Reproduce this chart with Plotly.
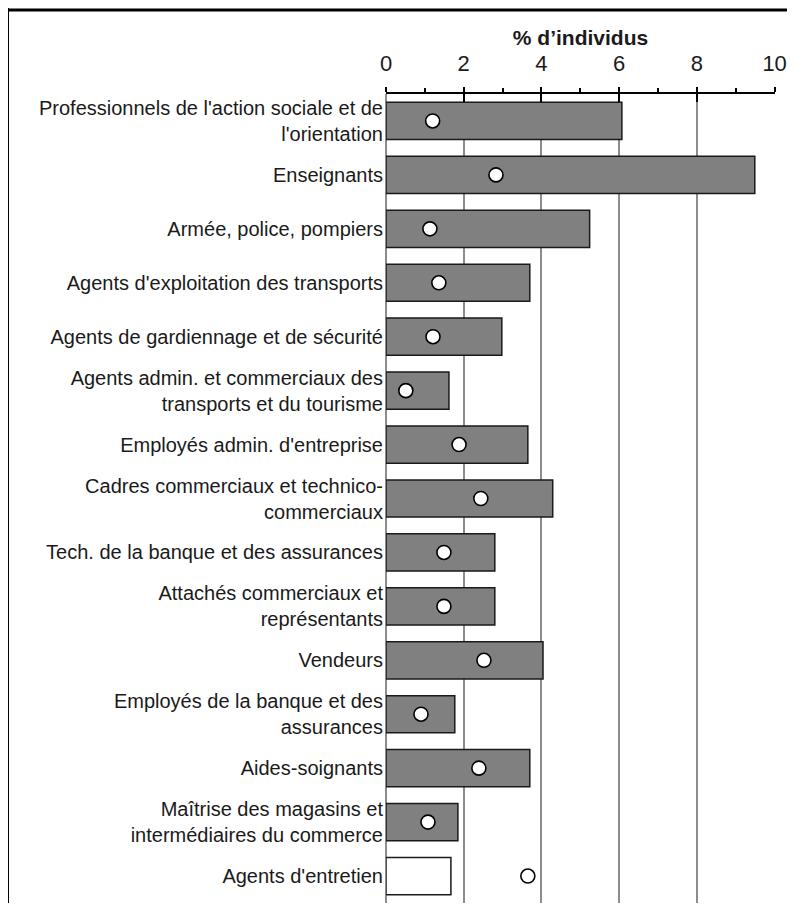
import plotly.graph_objects as go

categories = [
    "Professionnels de l'action sociale et de<br>l'orientation",
    "Enseignants",
    "Armée, police, pompiers",
    "Agents d'exploitation des transports",
    "Agents de gardiennage et de sécurité",
    "Agents admin. et commerciaux des<br>transports et du tourisme",
    "Employés admin. d'entreprise",
    "Cadres commerciaux et technico-<br>commerciaux",
    "Tech. de la banque et des assurances",
    "Attachés commerciaux et<br>représentants",
    "Vendeurs",
    "Employés de la banque et des<br>assurances",
    "Aides-soignants",
    "Maîtrise des magasins et<br>intermédiaires du commerce",
    "Agents d'entretien",
]
bar_values = [6.07, 9.49, 5.24, 3.70, 2.98, 1.62, 3.65, 4.29, 2.80, 2.80, 4.04, 1.77, 3.70, 1.85, 1.67]
dot_values = [1.20, 2.83, 1.13, 1.36, 1.21, 0.51, 1.88, 2.44, 1.49, 1.49, 2.52, 0.90, 2.39, 1.08, 3.65]
bar_colors = ["#808080"] * 14 + ["white"]

# page has an 8px body margin, so the figure is sized to fit inside it
W, H = 787, 895
L, R, T, B = 378, 20, 86, 0
XRANGE = [0, 10.01]

fig = go.Figure()
fig.add_trace(go.Bar(
    x=bar_values, y=categories, orientation="h",
    marker=dict(color=bar_colors, line=dict(color="#1a1a1a", width=1.5)),
    showlegend=False,
))
fig.add_trace(go.Scatter(
    x=dot_values, y=categories, mode="markers",
    marker=dict(size=14, color="white", line=dict(color="black", width=1.6)),
    showlegend=False,
))
# empty trace so the second top axis (downward part of major ticks) gets drawn
fig.add_trace(go.Scatter(x=[], y=[], xaxis="x2", showlegend=False, hoverinfo="skip"))

# frame lines (top and left) in paper coords
def px_x(p):
    return (p - L) / (W - L - R)

def px_y(p):
    return (H - B - p) / (H - T - B)

fig.add_shape(type="line", xref="paper", yref="paper",
              x0=px_x(0), x1=px_x(W), y0=px_y(2), y1=px_y(2),
              line=dict(color="black", width=3))
fig.add_shape(type="line", xref="paper", yref="paper",
              x0=px_x(0), x1=px_x(0), y0=px_y(0), y1=px_y(H),
              line=dict(color="black", width=2))

fig.update_layout(
    width=W, height=H,
    margin=dict(l=L, r=R, t=T, b=B),
    paper_bgcolor="white", plot_bgcolor="white",
    bargap=0.31,
    font=dict(family="Liberation Sans, Arial, sans-serif", size=21, color="#1a1a1a"),
    xaxis=dict(
        side="top", range=XRANGE, dtick=2,
        title=dict(text="<b>% d’individus</b>", font=dict(size=21), standoff=0),
        tickfont=dict(size=22),
        showline=True, linecolor="black", linewidth=1.5,
        ticks="outside", ticklen=5, tickcolor="black", tickwidth=1.5,
        ticklabelstandoff=7,
        minor=dict(dtick=1, ticks="outside", ticklen=4, tickcolor="black", showgrid=False),
        showgrid=True, gridcolor="#8c8c8c", gridwidth=2,
        zeroline=True, zerolinecolor="#8c8c8c", zerolinewidth=2,
        fixedrange=True, automargin=False,
    ),
    xaxis2=dict(
        overlaying="x", side="top", range=XRANGE, dtick=2,
        showticklabels=False, showgrid=False, zeroline=False, showline=False,
        ticks="inside", ticklen=8, tickcolor="black", tickwidth=1.5,
        fixedrange=True, automargin=False,
    ),
    yaxis=dict(
        range=[14.5, -0.5], showgrid=False, showline=False,
        ticks="", ticklabelstandoff=2, tickfont=dict(size=20),
        automargin=False,
    ),
)

fig.write_html("out.html")
